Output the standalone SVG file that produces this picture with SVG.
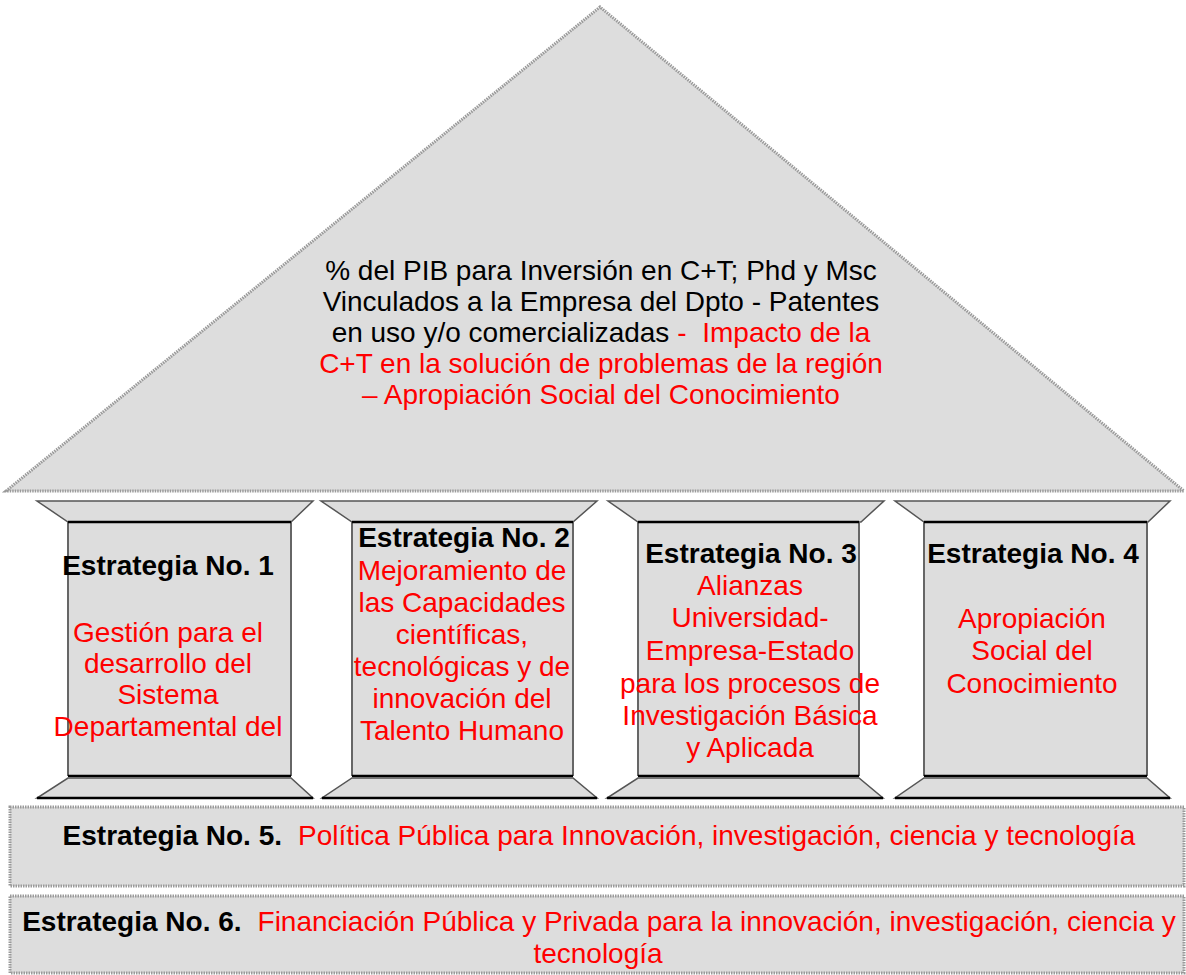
<svg xmlns="http://www.w3.org/2000/svg" width="1186" height="975" viewBox="0 0 1186 975">
<style>
.t{font-family:"Liberation Sans",Arial,sans-serif;font-size:28px;text-anchor:middle}
.b{font-weight:bold;fill:#000}
.k{fill:#000}
.r{fill:#ff0000}
.dot{fill:#dddddd;stroke:#9a9a9a;stroke-width:3;stroke-dasharray:1.5 1}
.cap{fill:#dddddd;stroke:#555;stroke-width:1.5}
.shaft{fill:#dddddd;stroke:none}
.side{stroke:#666;stroke-width:2;fill:none}
.blk{stroke:#000;stroke-width:2.5;fill:none}
</style>
<rect width="1186" height="975" fill="#fff"/>
<g id="roof">
<polygon class="dot" points="6,491 600,7 1184,491"/>
<text class="t"><tspan class="k" x="601" y="280">% del PIB para Inversión en C+T; Phd y Msc</tspan><tspan class="k" x="601" y="311">Vinculados a la Empresa del Dpto - Patentes</tspan><tspan x="601" y="342"><tspan class="k">en uso y/o comercializadas</tspan><tspan class="r"> - </tspan><tspan class="r" dx="8">Impacto de la</tspan></tspan><tspan class="r" x="601" y="373">C+T en la solución de problemas de la región</tspan><tspan class="r" x="601" y="404">– Apropiación Social del Conocimiento</tspan></text>
</g>
<g id="pillar1">
<polygon class="cap" points="37,501 313,501 291,522 68,522"/>
<rect class="shaft" x="68" y="522" width="223" height="254"/>
<path class="side" d="M68,522V776M291,522V776"/>
<path class="blk" d="M68,522H291M68,776H291"/>
<polygon class="cap" points="68,778 291,778 313,798 37,798"/>
<path class="blk" d="M37,798H313"/>
<text class="t"><tspan class="b" x="168" y="575">Estrategia No. 1</tspan><tspan class="r" x="168" y="642">Gestión para el</tspan><tspan class="r" x="168" y="673">desarrollo del</tspan><tspan class="r" x="168" y="704">Sistema</tspan><tspan class="r" x="168" y="736">Departamental del</tspan></text>
</g>
<g id="pillar2">
<polygon class="cap" points="321,501 597,501 573,522 352,522"/>
<rect class="shaft" x="352" y="522" width="221" height="254"/>
<path class="side" d="M352,522V776M573,522V776"/>
<path class="blk" d="M352,522H573M352,776H573"/>
<polygon class="cap" points="352,778 573,778 597,798 322,798"/>
<path class="blk" d="M322,798H597"/>
<text class="t"><tspan class="b" x="464" y="547">Estrategia No. 2</tspan><tspan class="r" x="462" y="580">Mejoramiento de</tspan><tspan class="r" x="462" y="612">las Capacidades</tspan><tspan class="r" x="462" y="644">científicas,</tspan><tspan class="r" x="462" y="676">tecnológicas y de</tspan><tspan class="r" x="462" y="708">innovación del</tspan><tspan class="r" x="462" y="740">Talento Humano</tspan></text>
</g>
<g id="pillar3">
<polygon class="cap" points="608,501 884,501 861,522 638,522"/>
<rect class="shaft" x="638" y="522" width="221" height="254"/>
<path class="side" d="M638,522V776M859,522V776"/>
<path class="blk" d="M638,522H859M638,776H859"/>
<polygon class="cap" points="638,778 859,778 883,798 607,798"/>
<path class="blk" d="M607,798H883"/>
<text class="t"><tspan class="b" x="751" y="563">Estrategia No. 3</tspan><tspan class="r" x="750" y="595">Alianzas</tspan><tspan class="r" x="750" y="627">Universidad-</tspan><tspan class="r" x="750" y="660">Empresa-Estado</tspan><tspan class="r" x="750" y="693">para los procesos de</tspan><tspan class="r" x="750" y="725">Investigación Básica</tspan><tspan class="r" x="750" y="757">y Aplicada</tspan></text>
</g>
<g id="pillar4">
<polygon class="cap" points="895,501 1170,501 1148,522 924,522"/>
<rect class="shaft" x="924" y="522" width="223" height="254"/>
<path class="side" d="M924,522V776M1147,522V776"/>
<path class="blk" d="M924,522H1147M924,776H1147"/>
<polygon class="cap" points="924,778 1147,778 1170,798 895,798"/>
<path class="blk" d="M895,798H1170"/>
<text class="t"><tspan class="b" x="1033" y="563">Estrategia No. 4</tspan><tspan class="r" x="1032" y="628">Apropiación</tspan><tspan class="r" x="1032" y="660">Social del</tspan><tspan class="r" x="1032" y="693">Conocimiento</tspan></text>
</g>
<g id="strategy5">
<rect class="dot" x="10" y="807" width="1174" height="79"/>
<text class="t" x="599" y="845"><tspan class="b">Estrategia No. 5.</tspan><tspan class="r" dx="16">Política Pública para Innovación, investigación, ciencia y tecnología</tspan></text>
</g>
<g id="strategy6">
<rect class="dot" x="10" y="896" width="1174" height="77"/>
<text class="t"><tspan x="599" y="931"><tspan class="b">Estrategia No. 6.</tspan><tspan class="r" dx="16">Financiación Pública y Privada para la innovación, investigación, ciencia y</tspan></tspan><tspan class="r" x="598" y="963">tecnología</tspan></text>
</g>
</svg>
